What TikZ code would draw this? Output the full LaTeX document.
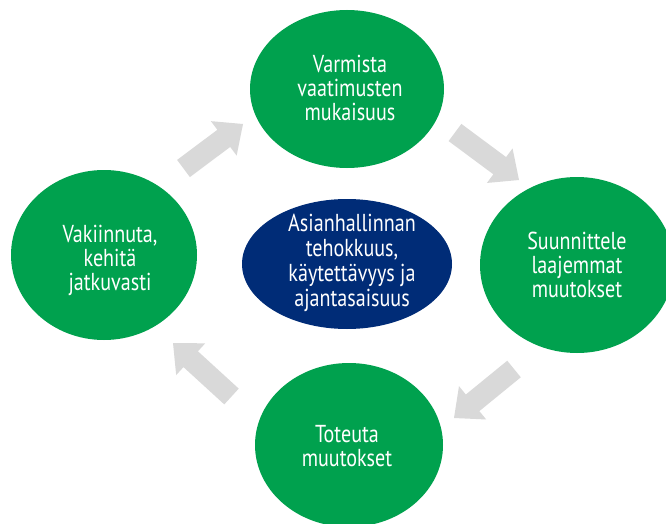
\documentclass[tikz,border=0pt]{standalone}
\usepackage{fontspec}
\setmainfont{PT Sans}[FakeStretch=0.82]
\usetikzlibrary{calc}
\definecolor{cgreen}{RGB}{0,161,78}
\definecolor{cnavy}{RGB}{0,44,119}
\definecolor{cgray}{RGB}{217,217,217}
\tikzset{
  stage/.style={ellipse, fill=cgreen, text=white, align=center, inner sep=0pt,
    font=\fontsize{24.5}{24}\selectfont},
  hub/.style={ellipse, fill=cnavy, text=white, align=center, inner sep=0pt,
    font=\fontsize{24.5}{25}\selectfont},
  blockarrow/.style={fill=cgray}
}
\newcommand{\myblockarrow}[2]{%
  \coordinate (tmpb) at ($(#2)!24pt!(#1)$);
  \fill[blockarrow] ($(#1)!10.7pt!90:(#2)$) -- ($(tmpb)!10.7pt!-90:(#1)$)
    -- ($(tmpb)!21.5pt!-90:(#1)$) -- (#2) -- ($(tmpb)!21.5pt!90:(#1)$)
    -- ($(tmpb)!10.7pt!90:(#1)$) -- ($(#1)!10.7pt!-90:(#2)$) -- cycle;}
\usetikzlibrary{shapes.geometric}
\begin{document}
\begin{tikzpicture}[x=1pt,y=-1pt]
\useasboundingbox (0,0) rectangle (666,524);
\fill[white] (0,0) rectangle (666,524);
% stages
\node[stage, minimum width=194pt, minimum height=158pt] (top) at (347,89) {};
\node[stage, minimum width=194pt, minimum height=176pt] (right) at (577,265) {};
\node[stage, minimum width=188pt, minimum height=164pt] (bottom) at (349,445) {};
\node[stage, minimum width=186pt, minimum height=170pt] (left) at (104,255) {};
\node[hub, minimum width=210pt, minimum height=130pt] (hub) at (347,264) {};
% texts
\node[stage, fill=none] (ttop) at (350,88) {Varmista\\vaatimusten\\mukaisuus};
\node[stage, fill=none] (tright) at (577,265) {Suunnittele\\laajemmat\\muutokset};
\node[stage, fill=none] (tbottom) at (347,446) {Toteuta\\muutokset};
\node[stage, fill=none] (tleft) at (110,260) {Vakiinnuta,\\kehitä\\jatkuvasti};
\node[hub, fill=none] (thub) at (352,263) {Asianhallinnan\\tehokkuus,\\käytettävyys ja\\ajantasaisuus};
% arrows
\coordinate (a1t) at (183.5,168.5); \coordinate (a1p) at (243,124);
\coordinate (a2t) at (455,132.5);   \coordinate (a2p) at (519,180);
\coordinate (a3t) at (514,369);     \coordinate (a3p) at (454,418);
\coordinate (a4t) at (231.5,396.5); \coordinate (a4p) at (173,343);
\myblockarrow{a1t}{a1p}
\myblockarrow{a2t}{a2p}
\myblockarrow{a3t}{a3p}
\myblockarrow{a4t}{a4p}
\end{tikzpicture}
\end{document}
